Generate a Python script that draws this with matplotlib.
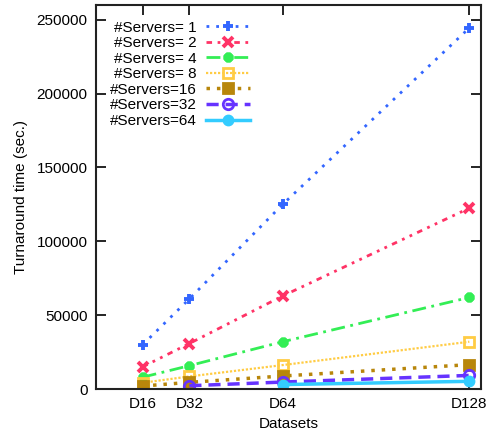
import matplotlib
matplotlib.use("Agg")
import matplotlib.pyplot as plt

plt.rcParams['font.family'] = ['Liberation Sans', 'DejaVu Sans']

datasets = ["D16", "D32", "D64", "D128"]
dataset_x = [16, 32, 64, 128]

labels = ["#Servers= 1", "#Servers= 2", "#Servers= 4", "#Servers= 8",
          "#Servers=16", "#Servers=32", "#Servers=64"]

s1 = [30000, 61000, 125000, 244500]
s2 = [15000, 30800, 63000, 122500]
s4 = [8000, 15800, 32000, 62000]
s8 = [4200, 8500, 16200, 32000]
s16 = [2000, 4500, 8800, 16500]
s32 = [None, 2200, 4700, 9200]
s64 = [None, None, 3000, 5200]

series = [s1, s2, s4, s8, s16, s32, s64]
colors = ['#3366ff', '#ff3366', '#33ee55', '#ffcc44', '#b8860b', '#6633ff', '#33ccff']
styles = [(0, (1, 2.5)), (0, (2, 2, 1, 2, 1, 2)), (0, (5, 2, 1, 2)), (0, (1, 0.8)),
          (0, (1, 2)), (0, (3.5, 2)), '-']
markers = ['+', 'x', (8, 2, 0), 's', 's', 'o', 'o']
mfcs = [None, None, None, 'none', None, 'none', None]
msizes = [7, 7, 7, 7, 7, 7.5, 6.5]
mews = [2.8, 2.8, 2.8, 2, 2, 2, 2]
lws = [2, 2, 2, 1.6, 2.5, 2.5, 2.5]

fig = plt.figure(figsize=(4.87, 4.36), dpi=100)
ax = fig.add_axes([96 / 487, 1 - 389 / 436, (481 - 96) / 487, (389 - 5) / 436])

for ys, lab, c, ls, m, mfc, ms, mew, lw in zip(series, labels, colors, styles, markers,
                                               mfcs, msizes, mews, lws):
    xs = [x for x, y in zip(dataset_x, ys) if y is not None]
    yv = [y for y in ys if y is not None]
    kw = dict(color=c, linestyle=ls, linewidth=lw, marker=m, markersize=ms,
              markeredgewidth=mew, label=lab)
    if mfc is not None:
        kw['markerfacecolor'] = mfc
    ax.plot(xs, yv, **kw)

ax.set_xlim(0, 132)
ax.set_ylim(0, 260000)
ax.set_xticks(dataset_x)
ax.set_xticklabels(datasets)
ax.set_yticks([0, 50000, 100000, 150000, 200000, 250000])
ax.tick_params(direction='in', length=7, width=1.2, top=True, right=True,
               labelsize=11, pad=6, colors='black')
for sp in ax.spines.values():
    sp.set_linewidth(1.5)
    sp.set_color('#222222')

ax.set_xlabel("Datasets", fontsize=11, labelpad=4)
ax.set_ylabel("Turnaround time (sec.)", fontsize=11, labelpad=6)

leg = ax.legend(loc='upper left', bbox_to_anchor=(0.02, 0.975), frameon=False,
                markerfirst=False, fontsize=11, handlelength=2.9, handletextpad=0.6,
                labelspacing=0.1, borderaxespad=0)

fig.savefig("out.png", dpi=100)
